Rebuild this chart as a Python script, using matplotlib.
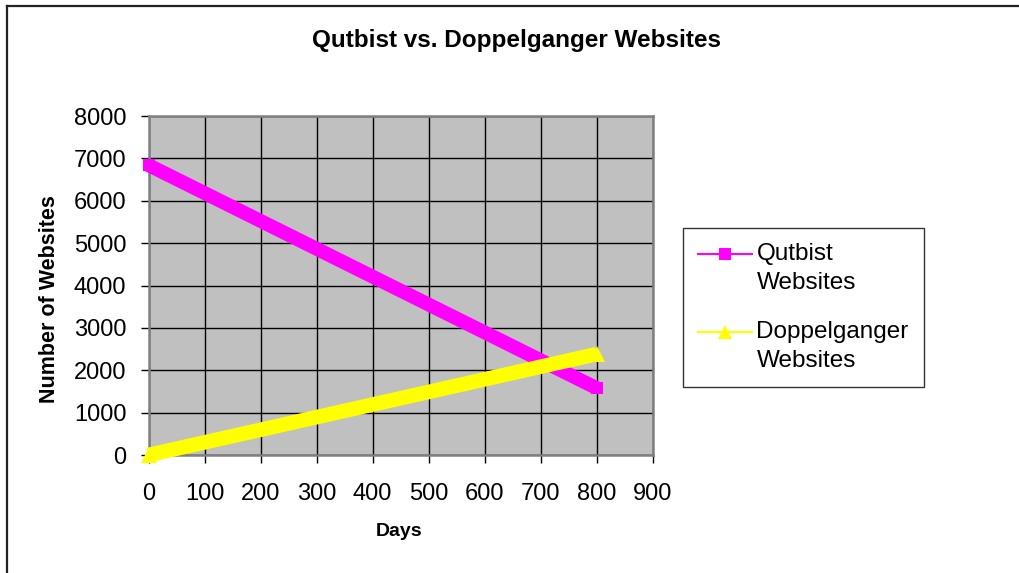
import matplotlib
matplotlib.use("Agg")
import matplotlib.pyplot as plt
from matplotlib.lines import Line2D
from matplotlib.legend_handler import HandlerLine2D

plt.rcParams['font.family'] = ['Liberation Sans', 'DejaVu Sans']

# ---- data ----
days = [0, 800]
qutbist = [6840, 1580]
doppelganger = [0, 2380]
x_ticks = [0, 100, 200, 300, 400, 500, 600, 700, 800, 900]
y_ticks = [0, 1000, 2000, 3000, 4000, 5000, 6000, 7000, 8000]
series_names = ["Qutbist\nWebsites", "Doppelganger\nWebsites"]
title = "Qutbist vs. Doppelganger Websites"
xlabel = "Days"
ylabel = "Number of Websites"

W, H = 1019, 573
fig = plt.figure(figsize=(W / 100, H / 100), dpi=100)
fig.patch.set_facecolor('white')

def fx(px):
    return px / W

def fy(py):
    return 1 - py / H

ax = fig.add_axes([fx(148.5), fy(455), fx(652.5) - fx(148.5), fy(116) - fy(455)])
ax.set_facecolor('#C0C0C0')

MAG = '#FF00FF'
YEL = '#FFFF00'

ax.plot(days, qutbist, color=MAG, lw=10, solid_capstyle='butt', clip_on=False,
        marker='s', markersize=8, markeredgewidth=0, zorder=3)
ax.plot(days, doppelganger, color=YEL, lw=10.5, solid_capstyle='butt', clip_on=False,
        marker='^', markersize=11, markeredgewidth=0, zorder=4)

ax.set_xlim(0, 900)
ax.set_ylim(0, 8000)
ax.set_xticks(x_ticks)
ax.set_yticks(y_ticks)
ax.grid(True, color='black', lw=1.0)
ax.set_axisbelow(True)
for s in ax.spines.values():
    s.set_color('#808080')
    s.set_linewidth(1.8)
ax.tick_params(axis='both', direction='out', length=6, width=1, color='black',
               labelsize=17)
ax.tick_params(axis='x', pad=14)
ax.tick_params(axis='y', pad=10)

# titles / labels as figure text
fig.text(fx(517), fy(46.7), title, ha='center', va='baseline',
         fontsize=17.5, fontweight='bold')
fig.text(fx(49.5), fy(299.5), ylabel, ha='center', va='center', rotation=90,
         fontsize=15.5, fontweight='bold')
fig.text(fx(399), fy(536.5), xlabel, ha='center', va='baseline',
         fontsize=14, fontweight='bold')

# legend
class ShiftHandler(HandlerLine2D):
    def __init__(self, dy, **kw):
        super().__init__(**kw)
        self.dy = dy

    def create_artists(self, legend, orig_handle, xdescent, ydescent, width,
                       height, fontsize, trans):
        return super().create_artists(legend, orig_handle, xdescent,
                                      ydescent - 2 * self.dy * fontsize,
                                      width, height, fontsize, trans)

h1 = Line2D([], [], color=MAG, lw=1.5, marker='s', markersize=8, markeredgewidth=0)
h2 = Line2D([], [], color=YEL, lw=1.5, marker='^', markersize=10, markeredgewidth=0)
leg = fig.legend([h1, h2], series_names, loc='upper left',
                 bbox_to_anchor=(fx(683), fy(228)), bbox_transform=fig.transFigure,
                 borderaxespad=0, fontsize=17.5, frameon=True, fancybox=False,
                 edgecolor='black', handlelength=2.2, handletextpad=0.2,
                 borderpad=0.62, labelspacing=1.1,
                 handler_map={h1: ShiftHandler(0.62), h2: ShiftHandler(0.62)})
leg.get_frame().set_linewidth(1.0)
for t in leg.get_texts():
    t.set_linespacing(1.43)

# outer chart border (only left and top visible)
fig.add_artist(Line2D([fx(7), fx(7)], [fy(6), fy(600)], color='#222222', lw=1.6,
                      transform=fig.transFigure))
fig.add_artist(Line2D([fx(7), fx(1100)], [fy(6), fy(6)], color='#222222', lw=1.6,
                      transform=fig.transFigure))

fig.savefig('out.png', dpi=100)
